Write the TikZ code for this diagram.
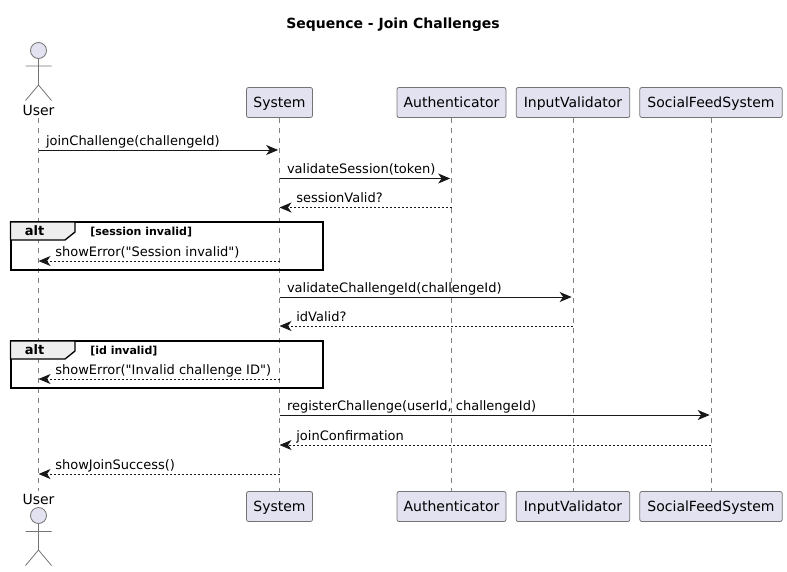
\documentclass[tikz,border=0pt]{standalone}
\usepackage{fontspec}
\setmainfont{DejaVu Sans}[Ligatures=TeXOff]
\usetikzlibrary{arrows.meta}
\definecolor{partfill}{HTML}{E2E2F0}
\definecolor{partline}{HTML}{181818}
\definecolor{tabfill}{HTML}{EEEEEE}

\begin{document}
\begin{tikzpicture}[x=0.75pt,y=-0.75pt,>={Stealth[length=9pt,width=7.5pt,inset=2.6pt]},font=\fontsize{9.75pt}{11pt}\selectfont]
\tikzstyle{participant}=[draw=partline!60,fill=partfill,line width=0.6pt,rounded corners=1.5pt,minimum height=22.5pt,inner sep=0pt,text height=8pt,text depth=1.2pt,font=\fontsize{10.5pt}{12pt}\selectfont]
\tikzstyle{actorhead}=[circle,draw=partline!60,fill=partfill,line width=0.6pt,minimum size=12pt,inner sep=0pt]
\tikzstyle{actorname}=[minimum height=12pt,inner sep=0pt,font=\fontsize{10.5pt}{12pt}\selectfont]
\tikzstyle{limb}=[draw=partline!60,line width=0.6pt]
\tikzstyle{lifeline}=[draw=partline!55,line width=0.5pt,dash pattern=on 3.75pt off 3.75pt]
\tikzstyle{call}=[->,draw=partline,line width=0.75pt,shorten >=1pt]
\tikzstyle{reply}=[->,draw=partline,line width=0.75pt,dash pattern=on 1.5pt off 1.5pt]
\tikzstyle{calltext}=[pos=0,anchor=base west,inner sep=0pt,xshift=5.25pt,yshift=3.5pt]
\tikzstyle{replytext}=[pos=1,anchor=base west,inner sep=0pt,xshift=12.25pt,yshift=3.5pt]
\tikzstyle{fragment}=[draw=black,line width=1.5pt]
\tikzstyle{fragtab}=[draw=black,fill=tabfill,line width=1pt]
\tikzstyle{guard}=[anchor=base west,inner sep=0pt,font=\fontsize{8.25pt}{10pt}\selectfont\bfseries]
\useasboundingbox (0,0) rectangle (787,571);

\node (title) at (393,23) [yshift=-1.5pt] {\fontsize{10.5pt}{12pt}\selectfont\bfseries Sequence - Join Challenges};

% top row
\node[actorname] (userT) at (38.5,110) {User};
\node[participant,minimum width=49.5pt] (sysT) at (279.5,102.5) {System};
\node[participant,minimum width=81.75pt] (authT) at (451.5,102.5) {Authenticator};
\node[participant,minimum width=85.25pt] (inputT) at (573,102.5) {InputValidator};
\node[participant,minimum width=106.75pt] (feedT) at (711,102.5) {SocialFeedSystem};

% bottom row
\node[actorname] (userB) at (38.5,499) {User};
\node[participant,minimum width=49.5pt] (sysB) at (279.5,506.5) {System};
\node[participant,minimum width=81.75pt] (authB) at (451.5,506.5) {Authenticator};
\node[participant,minimum width=85.25pt] (inputB) at (573,506.5) {InputValidator};
\node[participant,minimum width=106.75pt] (feedB) at (711,506.5) {SocialFeedSystem};

\path[lifeline]
(userT) -- (userB)
(sysT) -- (sysB)
(authT) -- (authB)
(inputT) -- (inputB)
(feedT) -- (feedB);

% actors
\node[actorhead] (headT) at (38.5,50.5) {};
\coordinate (hipT) at (38.5,85);
\coordinate (armLT) at (25.5,66);
\coordinate (armRT) at (51.5,66);
\coordinate (footLT) at (25.5,100.5);
\coordinate (footRT) at (51.5,100.5);
\path[limb] (headT) -- (hipT) (armLT) -- (armRT) (footLT) -- (hipT) -- (footRT);

\node[actorhead] (headB) at (38.5,515.5) {};
\coordinate (hipB) at (38.5,550);
\coordinate (armLB) at (25.5,531.5);
\coordinate (armRB) at (51.5,531.5);
\coordinate (footLB) at (25.5,565.5);
\coordinate (footRB) at (51.5,565.5);
\path[limb] (headB) -- (hipB) (armLB) -- (armRB) (footLB) -- (hipB) -- (footRB);

% fragments
\draw[fragment] (10.5,222) rectangle (322.5,269.5);
\draw[fragtab] (10.5,222) -- (75,222) -- (75,232) -- (65,240) -- (10.5,240) -- cycle;
\node (alt1) at (34.5,231) {\bfseries alt};
\node[guard] (guard1) at (90,235) {[session invalid]};

\draw[fragment] (10.5,341) rectangle (322.5,388);
\draw[fragtab] (10.5,341) -- (75,341) -- (75,351) -- (65,359) -- (10.5,359) -- cycle;
\node (alt2) at (34.5,350) {\bfseries alt};
\node[guard] (guard2) at (90,354) {[id invalid]};

% messages
\coordinate (m1) at (0,150);
\coordinate (m2) at (0,178.5);
\coordinate (m3) at (0,207.5);
\coordinate (m4) at (0,261);
\coordinate (m5) at (0,297);
\coordinate (m6) at (0,326);
\coordinate (m7) at (0,379);
\coordinate (m8) at (0,415);
\coordinate (m9) at (0,445);
\coordinate (m10) at (0,474);

\path
(userT |- m1) edge[call] node[calltext]{joinChallenge(challengeId)} (sysT |- m1)
(sysT |- m2) edge[call] node[calltext]{validateSession(token)} (authT |- m2)
(authT |- m3) edge[reply] node[replytext]{sessionValid?} (sysT |- m3)
(sysT |- m4) edge[reply] node[replytext]{showError("Session invalid")} (userT |- m4)
(sysT |- m5) edge[call] node[calltext]{validateChallengeId(challengeId)} (inputT |- m5)
(inputT |- m6) edge[reply] node[replytext]{idValid?} (sysT |- m6)
(sysT |- m7) edge[reply] node[replytext]{showError("Invalid challenge ID")} (userT |- m7)
(sysT |- m8) edge[call] node[calltext]{registerChallenge(userId, challengeId)} (feedT |- m8)
(feedT |- m9) edge[reply] node[replytext]{joinConfirmation} (sysT |- m9)
(sysT |- m10) edge[reply] node[replytext]{showJoinSuccess()} (userT |- m10);
\end{tikzpicture}
\end{document}
